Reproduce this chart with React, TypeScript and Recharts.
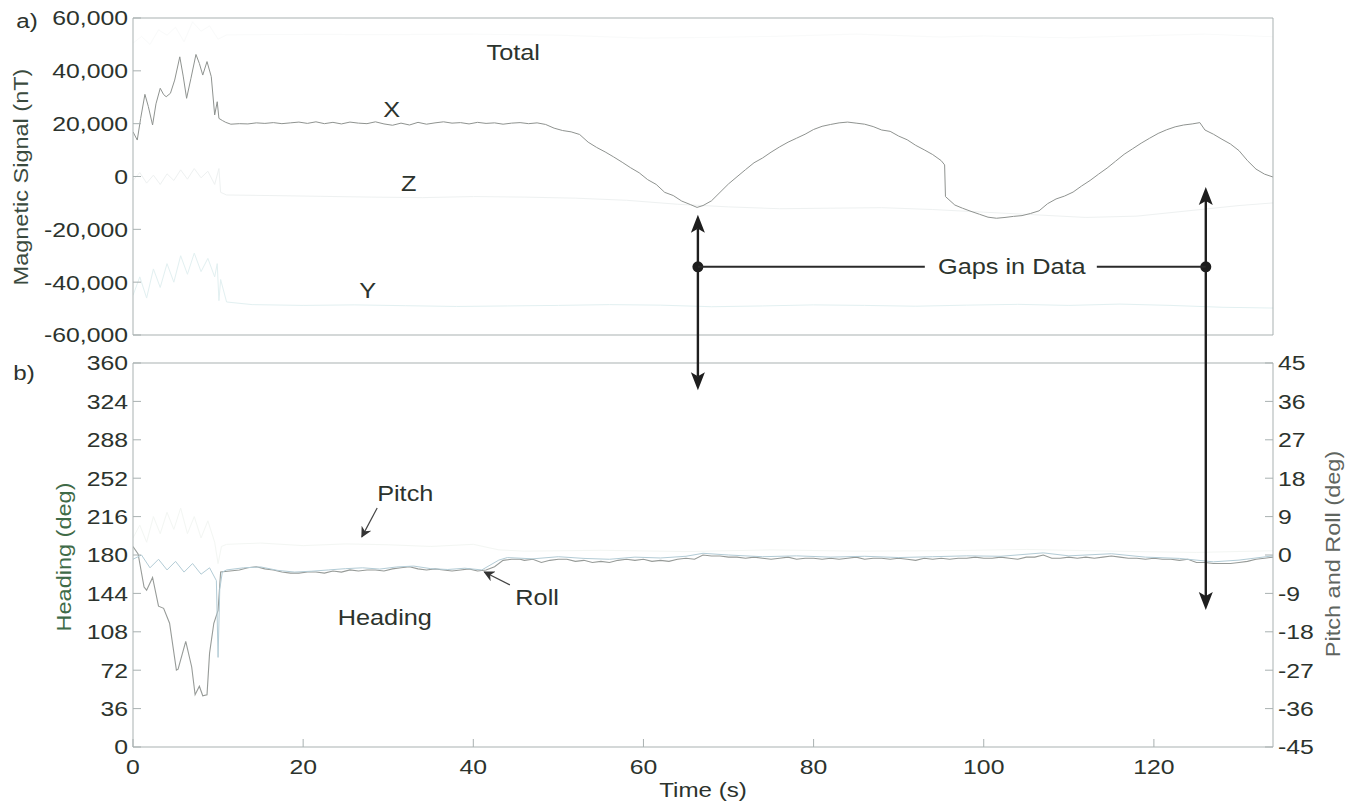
import { LineChart, Line, XAxis, YAxis } from 'recharts'

// axes
const timeDomain: [number, number] = [0, 134]
const timeTicks = [0, 20, 40, 60, 80, 100, 120]
const magDomain: [number, number] = [-60000, 60000]
const magTicks = [-60000, -40000, -20000, 0, 20000, 40000, 60000]
const headingDomain: [number, number] = [0, 360]
const headingTicks = [0, 36, 72, 108, 144, 180, 216, 252, 288, 324, 360]
const attDomain: [number, number] = [-45, 45]
const attTicks = [-45, -36, -27, -18, -9, 0, 9, 18, 27, 36, 45]

// magnetic components, [time s, nT]
const magX: [number, number][] = [
  [0, 16900], [0.5, 13800], [0.9, 22000], [1.4, 31100], [1.8, 26500], [2.3, 19500], [2.7, 27500], [3.2, 33400],
  [3.6, 31000], [3.9, 30200], [4.4, 31500], [4.9, 36500], [5.5, 45300], [5.9, 38000], [6.3, 29600], [6.8, 37000],
  [7.4, 46200], [7.8, 42800], [8.2, 38400], [8.7, 43500], [9.2, 37800], [9.6, 23300], [9.9, 28300], [10.1, 22000],
  [10.5, 21200], [10.9, 20500], [11.5, 19800], [12.5, 20000], [13.5, 19900], [14.5, 20300], [15.5, 20100],
  [16.5, 20400], [17.5, 20000], [18.5, 20300], [19.5, 20600], [20.5, 20100], [21.5, 20700], [22.5, 20000],
  [23.5, 20500], [24.5, 19900], [25.5, 20600], [26.5, 20200], [27.5, 20000], [28.5, 20700], [29.5, 19900],
  [30.5, 19400], [31.5, 20200], [32.5, 19500], [33.5, 20500], [34.5, 19800], [35.5, 20300], [36.5, 20700],
  [37.5, 20200], [38.5, 20400], [39.5, 19900], [40.5, 20500], [41.5, 20100], [42.5, 20300], [43.5, 19800],
  [44.5, 20200], [45.5, 20400], [46.5, 20000], [47.5, 20300], [48.5, 19700], [49.5, 18300], [50.5, 17400],
  [51.5, 16900], [52.5, 15900], [53.5, 13000], [54.5, 11000], [55.5, 9300], [56.5, 7400], [57.5, 5400],
  [58.5, 3300], [59.5, 1400], [60.5, -1200], [61.5, -3000], [62.5, -6000], [63.5, -7200], [64.5, -9300],
  [65.5, -10600], [66.3, -11700], [67, -11000], [68, -9200], [69, -6000], [70, -2800], [71, -100], [72, 2600],
  [73, 5200], [74, 7000], [75, 9200], [76, 11200], [77, 13000], [78, 14500], [79, 16000], [80, 17800],
  [81, 19000], [82, 19700], [83, 20300], [84, 20600], [85, 20200], [86, 19800], [87, 18900], [88, 17600],
  [89, 17100], [90, 15300], [91, 13900], [92, 11800], [93, 10100], [94, 8300], [95, 6000], [95.4, 4400],
  [95.5, -7600], [96.6, -10800], [97.5, -12000], [98.5, -13200], [99.5, -14300], [100.5, -15400],
  [101.5, -15800], [102.5, -15500], [103.5, -15100], [104.5, -14800], [105.5, -14000], [106.5, -13000],
  [107.5, -10300], [108.5, -8500], [109.5, -7400], [110.5, -5900], [111.5, -3600], [112.5, -1500], [113.5, 900],
  [114.5, 3200], [115.5, 5800], [116.5, 8400], [117.5, 10500], [118.5, 12600], [119.5, 14500], [120.5, 16300],
  [121.5, 17700], [122.5, 18800], [123.5, 19500], [124.5, 19900], [125.4, 20400], [126, 17600], [127, 16000],
  [128, 14100], [129, 12300], [130, 9800], [131, 6000], [132, 2800], [133, 900], [134, -200],
]
const magY: [number, number][] = [
  [0, -45000], [0.8, -38000], [1.6, -46000], [2.4, -35000], [3.2, -42000], [4, -33000], [4.8, -40000],
  [5.6, -30000], [6.4, -37000], [7.2, -29000], [8, -36000], [8.8, -31000], [9.6, -38000], [9.9, -33000],
  [10.1, -47000], [10.3, -39000], [11, -47500], [14, -48500], [20, -48800], [26, -48600], [32, -48900],
  [38, -49200], [44, -49000], [50, -48800], [56, -48500], [62, -48700], [68, -49300], [74, -49000], [80, -48600],
  [86, -48800], [92, -49100], [98, -48700], [104, -48400], [110, -48800], [116, -48300], [122, -48800],
  [128, -49500], [134, -49800],
]
const magZ: [number, number][] = [
  [0, -1500], [0.8, 1500], [1.6, -2500], [2.4, 500], [3.2, -3000], [4, 1000], [4.8, -1500], [5.6, 2500],
  [6.4, -1000], [7.2, 3000], [8, -500], [8.8, 2000], [9.6, -3000], [10.1, 3000], [10.3, -6000], [11, -7000],
  [16, -7200], [22, -7500], [28, -7800], [34, -8000], [40, -7600], [46, -7800], [52, -8200], [58, -9000],
  [64, -10500], [70, -11500], [76, -12200], [82, -12000], [88, -11800], [94, -12500], [100, -13500],
  [106, -14500], [112, -15500], [118, -15000], [124, -13000], [130, -11000], [134, -10000],
]
const magTotal: [number, number][] = [
  [0, 50500], [1, 53000], [2, 50000], [3, 55500], [4, 53500], [5, 56500], [6, 51000], [7, 58500], [8, 55000],
  [9, 57000], [10, 52000], [11, 53600], [20, 53800], [30, 53700], [40, 53900], [50, 53500], [60, 52400],
  [66, 52600], [75, 53000], [85, 53900], [95, 52800], [100, 53200], [110, 52500], [120, 53400], [126, 53900],
  [134, 52900],
]

// attitude, [time s, deg]
const heading: [number, number][] = [
  [0, 188], [0.6, 181], [1.3, 150], [1.6, 147], [2.3, 159], [3, 132], [3.6, 130], [4.3, 116], [5.1, 72],
  [5.3, 73], [6.2, 99], [6.9, 75], [7.3, 49], [7.8, 57], [8.2, 48], [8.7, 49], [9, 88], [9.5, 116], [10, 128],
  [10.3, 164], [11.4, 165], [12.5, 166], [13.5, 168], [14.5, 169], [15.5, 167], [16.5, 166], [17.5, 164],
  [18.5, 163], [19.5, 163], [20.5, 164], [21.5, 164], [22.5, 163], [23.5, 165], [24.5, 164], [25.5, 166],
  [26.5, 165], [27.5, 166], [28.5, 166], [29.5, 165], [30.5, 167], [31.5, 168], [32.5, 169], [33.5, 167],
  [34.5, 166], [35.5, 167], [36.5, 166], [37.5, 165], [38.5, 166], [39.5, 167], [40.5, 165], [41.5, 166],
  [42.5, 169], [43.5, 175], [44.5, 176], [45.5, 176], [46, 175], [47, 176], [48, 173], [49, 175], [50, 176],
  [51, 176], [52, 174], [53, 175], [54, 173], [55, 174], [56, 173], [57, 175], [58, 176], [59, 175], [60, 176],
  [61, 174], [62, 175], [63, 174], [64, 176], [65, 177], [66, 176], [67, 180], [68, 179], [69, 179], [70, 178],
  [71, 178], [72, 177], [73, 178], [74, 177], [75, 176], [76, 177], [77, 178], [78, 176], [79, 177], [80, 177],
  [81, 176], [82, 177], [83, 176], [84, 177], [85, 178], [86, 176], [87, 177], [88, 177], [89, 176], [90, 177],
  [91, 176], [92, 175], [93, 177], [94, 176], [95, 177], [96, 176], [97, 177], [98, 177], [99, 178], [100, 177],
  [101, 177], [102, 178], [103, 177], [104, 176], [105, 178], [106, 178], [107, 180], [108, 177], [109, 177],
  [110, 178], [111, 177], [112, 178], [113, 177], [114, 178], [115, 179], [116, 178], [117, 177], [118, 177],
  [119, 176], [120, 177], [121, 176], [122, 176], [123, 175], [124, 176], [125, 173], [126, 173], [127, 172],
  [128, 172], [129, 172], [130, 173], [131, 174], [132, 176], [133, 177], [134, 178],
]
const pitch: [number, number][] = [
  [0, 4], [0.8, 7], [1.6, 3], [2.4, 9], [3.2, 5], [4, 10], [4.8, 6], [5.6, 11], [6.4, 5], [7.2, 9], [8, 4],
  [8.8, 8], [9.6, 3], [10, -2], [10.4, 2], [11, 2.5], [15, 2.8], [20, 2.2], [25, 2.6], [30, 2.4], [35, 2],
  [40, 2.5], [43, 1.2], [46, 0.9], [55, 1.1], [65, 0.8], [75, 1.2], [85, 0.9], [95, 1], [105, 1.3], [115, 0.9],
  [125, 0.6], [134, 1],
]
const roll: [number, number][] = [
  [0, -1], [1, 0], [2, -3], [3, -1], [4, -3.5], [5, -1.5], [6, -4], [7, -2], [8, -4.5], [9, -3], [9.8, -6],
  [10, -24], [10.2, -8], [10.5, -4], [11, -3.5], [13, -3], [15, -2.8], [17, -3.6], [19, -4], [21, -3.8],
  [23, -3.5], [25, -3.2], [27, -3], [29, -3.3], [31, -2.8], [33, -2.6], [35, -3.2], [37, -3.4], [39, -3.1],
  [41, -3.5], [43, -1.2], [44, -0.6], [47, -0.9], [50, -0.4], [53, -0.8], [56, -1], [59, -0.5], [62, -0.7],
  [65, -0.3], [67, 0.4], [70, 0], [74, -0.4], [78, -0.2], [82, -0.5], [86, -0.3], [90, -0.6], [94, -0.4],
  [98, -0.2], [102, -0.3], [107, 0.5], [110, -0.2], [115, 0.3], [119, -0.5], [123, -0.8], [127, -1.6],
  [130, -1.2], [134, -0.2],
]

// annotation anchors (data units)
const gapTimes = [66.4, 126.1]
const gapUpTips = [-14500, -4000]
const gapDownTips = [334.5, 128.5]
const gapLevel = -34200

const rows = (pts: [number, number][]) => pts.map(([t, v]) => ({ t, v }))

const FONT = '"Liberation Sans", Arial, sans-serif'
const INK = '#2c332d'
const BOX = '#a9b1b1'
const W = 1355
const PL = 133
const PR = 1273
const TOP_Y0 = 18
const TOP_Y1 = 335
const BOT_Y0 = 363
const BOT_Y1 = 747
const SPLIT = 346 // page y where the lower chart starts

const px = (t: number) => PL + ((t - timeDomain[0]) / (timeDomain[1] - timeDomain[0])) * (PR - PL)
const pyMag = (v: number) => TOP_Y0 + ((magDomain[1] - v) / (magDomain[1] - magDomain[0])) * (TOP_Y1 - TOP_Y0)
const pyHead = (h: number) =>
  BOT_Y0 + ((headingDomain[1] - h) / (headingDomain[1] - headingDomain[0])) * (BOT_Y1 - BOT_Y0)

function tickLabel(fmt: (v: number) => string, dy: string) {
  return (p: any) => (
    <g transform={`translate(${p.x},${p.y})`}>
      <text transform="scale(1.18,1)" textAnchor={p.textAnchor} dy={dy} fontFamily={FONT} fontSize={21} fill={INK}>
        {fmt(p.payload.value)}
      </text>
    </g>
  )
}

const fmtPlain = (v: number) => String(v)
const fmtComma = (v: number) => v.toLocaleString('en-US')

function Label({ x, y, text, rotate = false, color = INK, size = 22 }: any) {
  const tr = rotate ? `translate(${x},${y}) rotate(-90) scale(1.12,1)` : `translate(${x},${y}) scale(1.15,1)`
  return (
    <text transform={tr} textAnchor="middle" dominantBaseline="central" fontFamily={FONT} fontSize={size} fill={color}>
      {text}
    </text>
  )
}

function BigHead({ x, y, up }: { x: number; y: number; up: boolean }) {
  const s = up ? 1 : -1
  return (
    <polygon
      points={`${x},${y} ${x - 7},${y + s * 18} ${x},${y + s * 14} ${x + 7},${y + s * 18}`}
      fill="#1e1e1e"
    />
  )
}

function Overlay() {
  const gx = px(103.3)
  const gy = pyMag(gapLevel)
  return (
    <svg width={W} height={806} style={{ position: 'absolute', left: 0, top: 0, pointerEvents: 'none' }}>
      <defs>
        <marker id="small" viewBox="0 0 10 10" refX="9" refY="5" markerWidth="9" markerHeight="9" orient="auto">
          <path d="M0,0 L10,5 L0,10 L3,5 z" fill="#333" />
        </marker>
      </defs>
      <Label x={27} y={21} text="a)" size={21} />
      <Label x={24} y={373} text="b)" size={21} />
      <Label x={21} y={177} text="Magnetic Signal (nT)" rotate color="#3a4a3e" size={21} />
      <Label x={64} y={557} text="Heading (deg)" rotate color="#3f6b48" size={21} />
      <Label x={1333} y={554} text="Pitch and Roll (deg)" rotate color="#5f655f" size={21} />
      <Label x={703} y={790} text="Time (s)" size={21} />

      <Label x={px(44.7)} y={pyMag(47100)} text="Total" />
      <Label x={px(30.4)} y={pyMag(25200)} text="X" />
      <Label x={px(32.4)} y={pyMag(-2500)} text="Z" />
      <Label x={px(27.6)} y={pyMag(-43000)} text="Y" />
      <Label x={px(32)} y={pyHead(238)} text="Pitch" />
      <Label x={px(29.6)} y={pyHead(121)} text="Heading" />
      <Label x={px(47.5)} y={pyHead(139.7)} text="Roll" />

      <line x1={px(28.7)} y1={pyHead(224)} x2={px(26.9)} y2={pyHead(197)} stroke="#444" strokeWidth={1.2} markerEnd="url(#small)" />
      <line x1={px(44.3)} y1={pyHead(152)} x2={px(41.3)} y2={pyHead(164)} stroke="#444" strokeWidth={1.2} markerEnd="url(#small)" />

      {gapTimes.map((t, i) => {
        const x = px(t)
        const yUp = pyMag(gapUpTips[i])
        const yDown = pyHead(gapDownTips[i])
        return (
          <g key={t}>
            <line x1={x} y1={yUp + 14} x2={x} y2={yDown - 14} stroke="#1e1e1e" strokeWidth={2.4} />
            <BigHead x={x} y={yUp} up />
            <BigHead x={x} y={yDown} up={false} />
            <circle cx={x} cy={gy} r={5.5} fill="#1e1e1e" />
          </g>
        )
      })}
      <line x1={px(gapTimes[0])} y1={gy} x2={gx - 87} y2={gy} stroke="#2a2a2a" strokeWidth={2} />
      <line x1={gx + 85} y1={gy} x2={px(gapTimes[1])} y2={gy} stroke="#2a2a2a" strokeWidth={2} />
      <Label x={gx} y={gy} text="Gaps in Data" />
    </svg>
  )
}

const axisLine = { stroke: BOX, strokeWidth: 1 }

export default function App() {
  return (
    <div style={{ position: 'absolute', left: 0, top: 0, width: W, height: 806, background: '#fff' }}>
      <div style={{ position: 'absolute', left: 0, top: 0 }}>
        <LineChart width={W} height={SPLIT} margin={{ top: TOP_Y0 - 1, right: 0, bottom: SPLIT - TOP_Y1 - 1, left: 0 }}>
          <XAxis dataKey="t" type="number" domain={timeDomain} ticks={timeTicks} allowDataOverflow height={1}
            tick={false} tickSize={-8} axisLine={axisLine} tickLine={axisLine} />
          <XAxis xAxisId="top" orientation="top" dataKey="t" type="number" domain={timeDomain} ticks={timeTicks}
            allowDataOverflow height={1} tick={false} tickSize={-8} axisLine={axisLine} tickLine={axisLine} />
          <YAxis type="number" domain={magDomain} ticks={magTicks} allowDataOverflow width={PL} tickSize={-8}
            tickMargin={13} tick={tickLabel(fmtComma, '0.35em')} axisLine={axisLine} tickLine={axisLine} />
          <YAxis yAxisId="r" orientation="right" type="number" domain={magDomain} ticks={magTicks} allowDataOverflow
            width={W - PR} tick={false} tickSize={-8} axisLine={axisLine} tickLine={axisLine} />
          <Line data={rows(magTotal)} dataKey="v" xAxisId="top" yAxisId="r" stroke="#f9fafa" strokeWidth={1}
            dot={false} activeDot={false} isAnimationActive={false} />
          <Line data={rows(magY)} dataKey="v" stroke="#e2f0f1" strokeWidth={1} dot={false} activeDot={false}
            isAnimationActive={false} />
          <Line data={rows(magZ)} dataKey="v" stroke="#eef1f1" strokeWidth={1} dot={false} activeDot={false}
            isAnimationActive={false} />
          <Line data={rows(magX)} dataKey="v" stroke="#8f9390" strokeWidth={1} dot={false} activeDot={false}
            isAnimationActive={false} />
        </LineChart>
      </div>
      <div style={{ position: 'absolute', left: 0, top: SPLIT }}>
        <LineChart width={W} height={806 - SPLIT} margin={{ top: BOT_Y0 - SPLIT - 1, right: 0, bottom: 0, left: 0 }}>
          <XAxis dataKey="t" type="number" domain={timeDomain} ticks={timeTicks} allowDataOverflow height={806 - BOT_Y1}
            tickSize={-8} tickMargin={20} tick={tickLabel(fmtPlain, '0.71em')} axisLine={axisLine} tickLine={axisLine} />
          <XAxis xAxisId="top" orientation="top" dataKey="t" type="number" domain={timeDomain} ticks={timeTicks}
            allowDataOverflow height={1} tick={false} tickSize={-8} axisLine={axisLine} tickLine={axisLine} />
          <YAxis yAxisId="h" type="number" domain={headingDomain} ticks={headingTicks} allowDataOverflow width={PL}
            tickSize={-8} tickMargin={13} tick={tickLabel(fmtPlain, '0.35em')} axisLine={axisLine} tickLine={axisLine} />
          <YAxis yAxisId="a" orientation="right" type="number" domain={attDomain} ticks={attTicks} allowDataOverflow
            width={W - PR} tickSize={-8} tickMargin={13} tick={tickLabel(fmtPlain, '0.35em')} axisLine={axisLine}
            tickLine={axisLine} />
          <Line data={rows(pitch)} dataKey="v" xAxisId="top" yAxisId="a" stroke="#f3f6f3" strokeWidth={1}
            dot={false} activeDot={false} isAnimationActive={false} />
          <Line data={rows(heading)} dataKey="v" yAxisId="h" stroke="#979b98" strokeWidth={1.1} dot={false}
            activeDot={false} isAnimationActive={false} />
          <Line data={rows(roll)} dataKey="v" yAxisId="a" stroke="#b3ccd6" strokeWidth={1} dot={false}
            activeDot={false} isAnimationActive={false} />
        </LineChart>
      </div>
      <Overlay />
    </div>
  )
}
